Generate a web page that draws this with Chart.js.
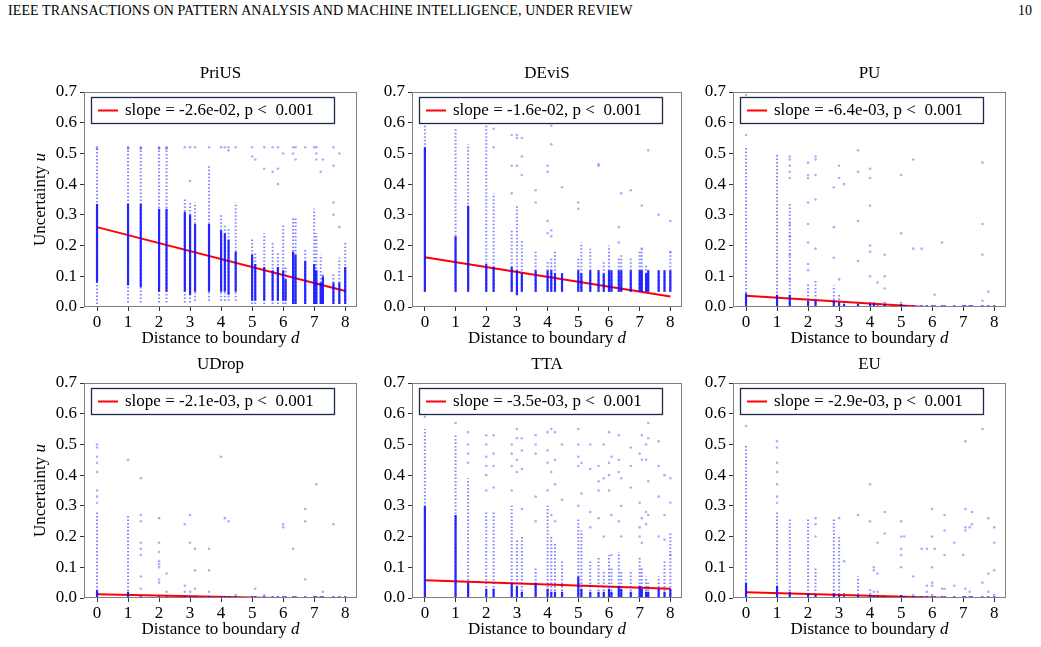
<!DOCTYPE html>
<html>
<head>
<meta charset="utf-8">
<script src="https://cdn.jsdelivr.net/npm/chart.js@4.4.0/dist/chart.umd.min.js"></script>
<style>
  body { margin: 0; background: #fff; width: 1041px; height: 647px; position: relative; overflow: hidden; font-family: 'Liberation Serif', serif; }
  .header { position: absolute; top: 3px; left: 8px; font-size: 14px; letter-spacing: 0.1px; color: #000; }
  .page { position: absolute; top: 3px; right: 9px; font-size: 14px; color: #000; }
  canvas { position: absolute; }
</style>
</head>
<body>
<div class="header">IEEE TRANSACTIONS ON PATTERN ANALYSIS AND MACHINE INTELLIGENCE, UNDER REVIEW</div>
<div class="page">10</div>
<canvas id="c0"></canvas>
<canvas id="c1"></canvas>
<canvas id="c2"></canvas>
<canvas id="c3"></canvas>
<canvas id="c4"></canvas>
<canvas id="c5"></canvas>
<script>
const methods = ['PriUS', 'DEviS', 'PU', 'UDrop', 'TTA', 'EU'];
const slopes = [-2.6e-2, -1.6e-2, -6.4e-3, -2.1e-3, -3.5e-3, -2.9e-3];
const intercepts = [0.26, 0.162, 0.037, 0.012, 0.058, 0.019];
const xTicks = [0, 1, 2, 3, 4, 5, 6, 7, 8];
const yTicks = [0, 0.1, 0.2, 0.3, 0.4, 0.5, 0.6, 0.7];

// distinct distances to the boundary (sqrt of integer sums)
const distances = [0, 1, 1.41, 2, 2.24, 2.83, 3, 3.16, 3.61, 4, 4.12, 4.24, 4.47, 5, 5.1, 5.39, 5.66, 5.83, 6, 6.08, 6.32, 6.4, 6.71, 7, 7.07, 7.21, 7.28, 7.62, 7.81, 8];

// PriUS
const priusDarkLo = [0.08, 0.07, 0.065, 0.05, 0.05, 0.05, 0.04, 0.05, 0.05, 0.05, 0.05, 0.04, 0.05, 0.02, 0.02, 0.02, 0.02, 0.02, 0.02, 0.02, 0.01, 0.01, 0.01, 0.01, 0.01, 0.01, 0.01, 0.01, 0.01, 0.01];
const priusDarkHi = [0.335, 0.335, 0.335, 0.32, 0.32, 0.31, 0.30, 0.27, 0.27, 0.25, 0.24, 0.22, 0.18, 0.17, 0.14, 0.13, 0.12, 0.13, 0.12, 0.09, 0.18, 0.17, 0.15, 0.14, 0.12, 0.08, 0.10, 0.08, 0.08, 0.13];
const priusFaintLo = [0.01, 0.015, 0.015, 0.015, 0.015, 0.015, 0.015, 0.02, 0.02, 0.02, 0.02, 0.02, 0.02, 0.01, 0.01, 0.01, 0.01, 0.01, 0.01, 0.01, 0.01, 0.01, 0.01, 0.01, 0.01, 0.01, 0.01, 0.01, 0.01, 0.01];
const priusFaintHi = [0.52, 0.52, 0.52, 0.52, 0.52, 0.35, 0.34, 0.34, 0.46, 0.30, 0.27, 0.26, 0.34, 0.22, 0.18, 0.24, 0.21, 0.18, 0.27, 0.13, 0.29, 0.29, 0.19, 0.32, 0.24, 0.17, 0.11, 0.11, 0.16, 0.21];
const priusSparse = [[0, 0.52], [0, 0.515], [1, 0.52], [1, 0.515], [1.41, 0.52], [1.41, 0.515], [2, 0.52], [2, 0.515], [2.24, 0.52], [2.24, 0.515],
  [2.83, 0.52], [3, 0.52], [3, 0.41], [3.16, 0.52], [3.61, 0.52], [4, 0.52], [4.12, 0.52], [4.24, 0.52], [4.24, 0.51], [4.47, 0.52],
  [5, 0.52], [5, 0.49], [5.1, 0.48], [5.39, 0.52], [5.39, 0.45], [5.66, 0.52], [5.66, 0.44], [5.83, 0.52], [5.83, 0.45], [5.83, 0.40],
  [6, 0.50], [6.32, 0.52], [6.32, 0.50], [6.4, 0.52], [6.4, 0.48], [6.71, 0.52], [7, 0.52], [7.07, 0.52], [7.07, 0.50], [7.07, 0.48],
  [7.21, 0.44], [7.28, 0.48], [7.62, 0.52], [7.62, 0.46], [7.62, 0.34], [7.62, 0.30], [7.81, 0.50], [7.81, 0.26]];

// DEviS
const devisDarkLo = [0.05, 0.05, 0.05, 0.05, 0.05, 0.05, 0.04, 0.05, 0.05, 0.05, 0.05, 0.05, 0.05, 0.05, 0.05, 0.05, 0.05, 0.05, 0.05, 0.05, 0.05, 0.05, 0.05, 0.05, 0.05, 0.05, 0.05, 0.05, 0.05, 0.05];
const devisDarkHi = [0.52, 0.23, 0.33, 0.14, 0.13, 0.13, 0.12, 0.11, 0.12, 0.12, 0.12, 0.11, 0.11, 0.12, 0.11, 0.12, 0.12, 0.11, 0.12, 0.12, 0.12, 0.12, 0.12, 0.12, 0.12, 0.11, 0.12, 0.12, 0.12, 0.12];
const devisFaintLo = [0.05, 0.05, 0.05, 0.05, 0.05, 0.05, 0.05, 0.05, 0.05, 0.05, 0.05, 0.05, 0.05, 0.05, 0.05, 0.05, 0.05, 0.05, 0.05, 0.05, 0.05, 0.05, 0.05, 0.05, 0.05, 0.05, 0.05, 0.05, 0.05, 0.05];
const devisFaintHi = [0.6, 0.58, 0.53, 0.59, 0.37, 0.25, 0.33, 0.22, 0.18, 0.15, 0.16, 0.18, 0.11, 0.16, 0.21, 0.19, 0.12, 0.15, 0.2, 0.12, 0.16, 0.17, 0.16, 0.18, 0.19, 0.14, 0.12, 0.12, 0.12, 0.18];
const devisSparse = [[2.24, 0.58], [2.24, 0.52], [2.83, 0.56], [2.83, 0.46], [2.83, 0.37], [3, 0.56], [3, 0.55], [3, 0.46], [3, 0.04],
  [3.16, 0.55], [3.16, 0.49], [3.16, 0.43], [3.61, 0.38], [3.61, 0.34], [4, 0.46], [4, 0.44], [4, 0.28], [4, 0.24],
  [4.12, 0.59], [4.12, 0.53], [4.12, 0.25], [4.12, 0.23], [4.47, 0.39], [5, 0.34], [5, 0.32], [5.66, 0.46], [5.66, 0.465],
  [6.32, 0.26], [6.32, 0.21], [6.4, 0.37], [6.71, 0.38], [7.07, 0.33], [7.07, 0.19], [7.28, 0.51], [7.62, 0.30], [8, 0.28], [8, 0.18]];

// PU
const puDarkLo = [0, 0, 0, 0, 0, 0, 0, 0, 0, 0, 0, 0, 0, 0, 0, 0, 0, 0, 0, 0, 0, 0, 0, 0, 0, 0, 0, 0, 0, 0];
const puDarkHi = [0.045, 0.04, 0.04, 0.02, 0.02, 0.02, 0.015, 0.01, 0.01, 0.01, 0.01, 0.006, 0.01, 0.01, 0.006, 0.006, 0.006, 0.006, 0.006, 0.006, 0.006, 0.006, 0.006, 0.006, 0.006, 0.006, 0.006, 0.006, 0.006, 0.006];
const puFaintLo = [0, 0, 0, 0, 0, 0, 0, 0, 0, 0, 0, null, 0, 0, null, null, null, null, null, null, null, null, null, null, null, null, null, null, null, null];
const puFaintHi = [0.52, 0.5, 0.34, 0.08, 0.09, 0.07, 0.04, 0.02, 0.02, 0.02, 0.02, null, 0.02, 0.02, null, null, null, null, null, null, null, null, null, null, null, null, null, null, null, null];
const puSparse = [[0, 0.56], [0, 0.6], [0, 0.69], [1.41, 0.49], [1.41, 0.48], [1.41, 0.46], [1.41, 0.44], [1.41, 0.42], [1.41, 0.27], [1.41, 0.23], [1.41, 0.17], [1.41, 0.09],
  [2, 0.47], [2, 0.43], [2, 0.42], [2, 0.34], [2, 0.27], [2, 0.21], [2, 0.14], [2, 0.12], [2.24, 0.49], [2.24, 0.48], [2.24, 0.43], [2.24, 0.35], [2.24, 0.19],
  [2.83, 0.39], [2.83, 0.26], [2.83, 0.16], [3, 0.46], [3, 0.42], [3, 0.09], [3.16, 0.40], [3.61, 0.51], [3.61, 0.44], [3.61, 0.28], [3.61, 0.15],
  [4, 0.45], [4, 0.42], [4, 0.33], [4, 0.20], [4, 0.18], [4, 0.10], [4.24, 0.08], [4.47, 0.17], [4.47, 0.10], [4.47, 0.06], [5, 0.43], [5, 0.24],
  [5.39, 0.48], [5.39, 0.19], [5.66, 0.19], [6.08, 0.04], [6.32, 0.21], [7.62, 0.47], [7.62, 0.27], [7.62, 0.17], [7.62, 0.02], [7.81, 0.05]];

// UDrop
const udropDarkLo = [0, 0, 0, 0, 0, 0, 0, 0, 0, 0, 0, 0, 0, 0, 0, 0, 0, 0, 0, 0, 0, 0, 0, 0, 0, 0, 0, 0, 0, 0];
const udropDarkHi = [0.025, 0.02, 0.006, 0.006, 0.006, 0.006, 0.006, 0.006, 0.006, 0.006, 0.006, 0.006, 0.006, 0.006, 0.006, 0.006, 0.006, 0.006, 0.006, 0.006, 0.006, 0.006, 0.006, 0.006, 0.006, 0.006, 0.006, 0.006, 0.006, 0.006];
const udropFaintLo = [0, 0, null, null, null, null, null, null, null, null, null, null, null, null, null, null, null, null, null, null, null, null, null, null, null, null, null, null, null, null];
const udropFaintHi = [0.28, 0.27, null, null, null, null, null, null, null, null, null, null, null, null, null, null, null, null, null, null, null, null, null, null, null, null, null, null, null, null];
const udropSparse = [[0, 0.5], [0, 0.49], [0, 0.46], [0, 0.44], [0, 0.41], [0, 0.35], [0, 0.33], [0, 0.31], [1, 0.45],
  [1.41, 0.39], [1.41, 0.27], [1.41, 0.25], [1.41, 0.18], [1.41, 0.16], [1.41, 0.14], [1.41, 0.07], [1.41, 0.03],
  [2, 0.26], [2, 0.18], [2, 0.15], [2, 0.12], [2, 0.11], [2, 0.1], [2, 0.06], [2, 0.05], [2.24, 0.08], [2.24, 0.02],
  [2.83, 0.24], [2.83, 0.04], [2.83, 0.02], [3, 0.27], [3, 0.18], [3, 0.02], [3.16, 0.16], [3.16, 0.09], [3.16, 0.03],
  [3.61, 0.16], [3.61, 0.09], [3.61, 0.02], [4, 0.46], [4.12, 0.26], [4.24, 0.25], [4.47, 0.01], [5.1, 0.03], [5.39, 0.01],
  [6, 0.24], [6, 0.23], [6.32, 0.16], [6.71, 0.29], [6.71, 0.25], [6.71, 0.06], [7.07, 0.37], [7.28, 0.02], [7.62, 0.24]];

// TTA
const ttaDarkLo = [0, 0, 0, 0, 0, 0, 0, 0, 0, 0, 0, 0, 0, 0, 0, 0, 0, 0, 0, 0, 0, 0, 0, 0, 0, 0, 0, 0, 0, 0];
const ttaDarkHi = [0.30, 0.27, 0.05, 0.03, 0.03, 0.05, 0.04, 0.02, 0.05, 0.03, 0.02, 0.02, 0.02, 0.07, 0.03, 0.02, 0.02, 0.02, 0.03, 0.02, 0.04, 0.03, 0.02, 0.04, 0.03, 0.02, 0.02, 0.03, 0.02, 0.03];
const ttaFaintLo = [0, 0, 0, 0, 0, 0, 0, 0, 0, 0, 0, 0, 0, 0, 0, 0, 0, 0, 0, 0, 0, 0, 0, 0, 0, 0, 0, 0, 0, 0];
const ttaFaintHi = [0.55, 0.53, 0.39, 0.28, 0.28, 0.30, 0.19, 0.20, 0.10, 0.30, 0.20, 0.18, 0.12, 0.26, 0.22, 0.12, 0.13, 0.09, 0.14, 0.10, 0.15, 0.09, 0.09, 0.13, 0.10, 0.07, 0.05, 0.07, 0.12, 0.21];
const ttaSparse = [[0, 0.59], [0, 0.6], [1, 0.57], [1.41, 0.54], [1.41, 0.50], [1.41, 0.47], [1.41, 0.44],
  [2, 0.35], [2, 0.53], [2, 0.50], [2, 0.46], [2, 0.43], [2, 0.40], [2.24, 0.53], [2.24, 0.47], [2.24, 0.43], [2.24, 0.36],
  [2.83, 0.50], [2.83, 0.47], [2.83, 0.43], [2.83, 0.35], [3, 0.55], [3, 0.52], [3, 0.45], [3, 0.41],
  [3.16, 0.52], [3.16, 0.48], [3.16, 0.42], [3.16, 0.29], [3.61, 0.53], [3.61, 0.50], [3.61, 0.47], [3.61, 0.33], [3.61, 0.25],
  [4, 0.54], [4, 0.48], [4, 0.44], [4, 0.35], [4.12, 0.55], [4.12, 0.41], [4.12, 0.27], [4.24, 0.54], [4.24, 0.45], [4.24, 0.37], [4.24, 0.25],
  [4.47, 0.50], [4.47, 0.32], [5, 0.55], [5, 0.50], [5, 0.46], [5, 0.43], [5, 0.30], [5.1, 0.44], [5.1, 0.34],
  [5.39, 0.50], [5.39, 0.42], [5.39, 0.28], [5.39, 0.23], [5.66, 0.43], [5.66, 0.38], [5.66, 0.35], [5.66, 0.26],
  [5.83, 0.50], [5.83, 0.39], [5.83, 0.20], [6, 0.54], [6, 0.44], [6, 0.40], [6, 0.35], [6.08, 0.46], [6.08, 0.27], [6.08, 0.14],
  [6.32, 0.53], [6.32, 0.45], [6.32, 0.41], [6.32, 0.25], [6.4, 0.39], [6.4, 0.30], [6.4, 0.20], [6.71, 0.49], [6.71, 0.43], [6.71, 0.36],
  [7, 0.47], [7, 0.31], [7, 0.23], [7, 0.20], [7.07, 0.53], [7.07, 0.45], [7.07, 0.26], [7.07, 0.18],
  [7.21, 0.50], [7.21, 0.45], [7.21, 0.28], [7.21, 0.24], [7.28, 0.57], [7.28, 0.52], [7.28, 0.38], [7.28, 0.27],
  [7.62, 0.51], [7.62, 0.43], [7.62, 0.33], [7.62, 0.20], [7.81, 0.40], [7.81, 0.27], [7.81, 0.19], [8, 0.39], [8, 0.31], [8, 0.14]];

// EU
const euDarkLo = [0, 0, 0, 0, 0, 0, 0, 0, 0, 0, 0, 0, 0, 0, 0, 0, 0, 0, 0, 0, 0, 0, 0, 0, 0, 0, 0, 0, 0, 0];
const euDarkHi = [0.05, 0.04, 0.02, 0.015, 0.01, 0.015, 0.01, 0.006, 0.01, 0.01, 0.006, 0.006, 0.006, 0.01, 0.006, 0.006, 0.006, 0.006, 0.006, 0.006, 0.006, 0.006, 0.006, 0.006, 0.006, 0.006, 0.006, 0.006, 0.006, 0.006];
const euFaintLo = [0, 0, 0, 0, 0, 0, 0, 0, 0, 0, null, null, null, null, null, null, null, null, null, null, null, null, null, null, null, null, null, null, null, null];
const euFaintHi = [0.50, 0.28, 0.26, 0.26, 0.10, 0.26, 0.20, 0.02, 0.07, 0.03, null, null, null, null, null, null, null, null, null, null, null, null, null, null, null, null, null, null, null, null];
const euSparse = [[0, 0.56], [1, 0.51], [1, 0.49], [1, 0.44], [1, 0.41], [1, 0.37], [1, 0.33], [1, 0.31],
  [2.24, 0.26], [2.24, 0.24], [2.24, 0.20], [3, 0.26], [3.16, 0.12], [3.61, 0.27], [4, 0.37], [4, 0.25],
  [4.12, 0.10], [4.12, 0.09], [4.12, 0.02], [4.24, 0.18], [4.24, 0.08], [4.24, 0.02], [4.47, 0.28], [4.47, 0.21],
  [5, 0.25], [5, 0.20], [5, 0.16], [5, 0.14], [5, 0.10], [5.1, 0.20], [5.39, 0.07], [5.39, 0.01], [5.66, 0.16],
  [5.83, 0.16], [5.83, 0.04], [5.83, 0.02], [6, 0.29], [6, 0.20], [6, 0.10], [6, 0.05], [6, 0.04], [6, 0.01], [6.08, 0.16],
  [6.32, 0.03], [6.4, 0.27], [6.4, 0.22], [6.4, 0.14], [6.4, 0.03], [6.71, 0.18], [6.71, 0.04], [7, 0.14],
  [7.07, 0.29], [7.07, 0.23], [7.07, 0.22], [7.07, 0.51], [7.07, 0.03], [7.21, 0.23], [7.21, 0.02], [7.28, 0.28], [7.28, 0.24],
  [7.62, 0.55], [7.62, 0.05], [7.81, 0.26], [7.81, 0.08], [7.81, 0.02], [8, 0.23], [8, 0.18], [8, 0.09], [8, 0.01]];

const panels = [
  { dark: [priusDarkLo, priusDarkHi], faint: [priusFaintLo, priusFaintHi], sparse: priusSparse },
  { dark: [devisDarkLo, devisDarkHi], faint: [devisFaintLo, devisFaintHi], sparse: devisSparse },
  { dark: [puDarkLo, puDarkHi], faint: [puFaintLo, puFaintHi], sparse: puSparse },
  { dark: [udropDarkLo, udropDarkHi], faint: [udropFaintLo, udropFaintHi], sparse: udropSparse },
  { dark: [ttaDarkLo, ttaDarkHi], faint: [ttaFaintLo, ttaFaintHi], sparse: ttaSparse },
  { dark: [euDarkLo, euDarkHi], faint: [euFaintLo, euFaintHi], sparse: euSparse }
];

// page layout of the plot areas
const colLeft = [84, 412, 733];
const colRight = [357, 682, 1006];
const rowTop = [92, 383];
const plotH = 215;
const padL = 62, padT = 42, padR = 14, padB = 58;
const FONT = "'Liberation Serif', 'Times New Roman', serif";

function segs(lo, hi) {
  const pts = [];
  distances.forEach((d, i) => {
    if (lo[i] == null || hi[i] == null || hi[i] <= lo[i]) return;
    pts.push({ x: d, y: lo[i] }, { x: d, y: hi[i] }, { x: d, y: null });
  });
  return pts;
}

function fmtSlope(s) {
  const [m, e] = s.toExponential(1).split('e');
  const sign = e[0] === '-' ? '-' : '+';
  const digits = e.replace(/^[-+]/, '').padStart(2, '0');
  return m + 'e' + sign + digits;
}

const decor = {
  id: 'decor',
  afterDatasetsDraw(chart, args, opts) {
    const { ctx, chartArea: a } = chart;
    ctx.save();
    // frame
    ctx.strokeStyle = '#808080';
    ctx.lineWidth = 1;
    ctx.strokeRect(Math.round(a.left) + 0.5, Math.round(a.top) + 0.5, Math.round(a.width) - 1, Math.round(a.height) - 1);
    // legend box
    const bx = Math.round(a.left) + 7, by = Math.round(a.top) + 5, bw = 243, bh = 26;
    ctx.fillStyle = '#fff';
    ctx.fillRect(bx, by, bw, bh);
    ctx.strokeStyle = '#1c2b4a';
    ctx.lineWidth = 1.3;
    ctx.strokeRect(bx + 0.5, by + 0.5, bw, bh);
    ctx.strokeStyle = '#ff0000';
    ctx.lineWidth = 2;
    ctx.beginPath();
    ctx.moveTo(bx + 7, by + bh / 2 + 0.5);
    ctx.lineTo(bx + 27, by + bh / 2 + 0.5);
    ctx.stroke();
    ctx.fillStyle = '#000';
    ctx.font = '17px ' + FONT;
    ctx.textBaseline = 'middle';
    ctx.textAlign = 'left';
    ctx.fillText('slope = ' + fmtSlope(opts.slope) + ', p <  0.001', bx + 34, by + bh / 2 + 1);
    ctx.restore();
  },
  afterDraw(chart, args, opts) {
    const { ctx, chartArea: a } = chart;
    const cx = (a.left + a.right) / 2;
    ctx.save();
    ctx.fillStyle = '#000';
    ctx.textBaseline = 'middle';
    // title
    ctx.font = '17px ' + FONT;
    ctx.textAlign = 'center';
    ctx.fillText(opts.title, cx, a.top - 18);
    // x label with italic d
    ctx.textAlign = 'left';
    const base = 'Distance to boundary ';
    ctx.font = '17px ' + FONT;
    const w1 = ctx.measureText(base).width;
    ctx.font = 'italic 17px ' + FONT;
    const w2 = ctx.measureText('d').width;
    let x0 = cx - (w1 + w2) / 2;
    ctx.font = '17px ' + FONT;
    ctx.fillText(base, x0, a.bottom + 32);
    ctx.font = 'italic 17px ' + FONT;
    ctx.fillText('d', x0 + w1, a.bottom + 32);
    // y label
    if (opts.yLabel) {
      ctx.translate(a.left - 43, (a.top + a.bottom) / 2);
      ctx.rotate(-Math.PI / 2);
      const yb = 'Uncertainty ';
      ctx.font = '17px ' + FONT;
      const v1 = ctx.measureText(yb).width;
      ctx.font = 'italic 17px ' + FONT;
      const v2 = ctx.measureText('u').width;
      const s0 = -(v1 + v2) / 2;
      ctx.font = '17px ' + FONT;
      ctx.fillText(yb, s0, 0);
      ctx.font = 'italic 17px ' + FONT;
      ctx.fillText('u', s0 + v1, 0);
    }
    ctx.restore();
  }
};

panels.forEach((p, k) => {
  const col = k % 3, row = Math.floor(k / 3);
  const plotW = colRight[col] - colLeft[col];
  const canvas = document.getElementById('c' + k);
  const cw = plotW + padL + padR, chh = plotH + padT + padB;
  canvas.width = cw; canvas.height = chh;
  canvas.style.width = cw + 'px'; canvas.style.height = chh + 'px';
  canvas.style.left = (colLeft[col] - padL) + 'px';
  canvas.style.top = (rowTop[row] - padT) + 'px';

  const fitData = [0, 8].map(d => ({ x: d, y: intercepts[k] + slopes[k] * d }));

  new Chart(canvas.getContext('2d'), {
    type: 'scatter',
    data: {
      datasets: [
        {
          data: segs(p.faint[0], p.faint[1]),
          showLine: true, spanGaps: false, pointRadius: 0,
          borderColor: 'rgba(30, 30, 255, 0.55)', borderWidth: 2, borderDash: [1.5, 2]
        },
        {
          data: segs(p.dark[0], p.dark[1]),
          showLine: true, spanGaps: false, pointRadius: 0,
          borderColor: 'rgba(0, 0, 255, 0.85)', borderWidth: 2.2
        },
        {
          data: p.sparse.map(([d, u]) => ({ x: d, y: u })),
          pointRadius: 1.3, borderWidth: 0,
          backgroundColor: 'rgba(0, 0, 255, 0.32)'
        },
        {
          data: fitData,
          showLine: true, pointRadius: 0,
          borderColor: '#ff0000', borderWidth: 2
        }
      ]
    },
    options: {
      responsive: false,
      animation: false,
      events: [],
      layout: { padding: { left: 0, top: padT, right: padR, bottom: 0 } },
      plugins: {
        legend: { display: false },
        tooltip: { enabled: false },
        decor: { title: methods[k], slope: slopes[k], yLabel: col === 0 }
      },
      scales: {
        x: {
          type: 'linear', min: -0.42, max: 8.38,
          afterBuildTicks: s => { s.ticks = xTicks.map(v => ({ value: v })); },
          afterFit: s => { s.height = padB; },
          grid: { drawOnChartArea: false, drawTicks: true, tickLength: 4, tickColor: '#333' },
          border: { display: false },
          ticks: { color: '#000', font: { family: FONT, size: 17 }, padding: 1, maxRotation: 0 }
        },
        y: {
          type: 'linear', min: 0, max: 0.7,
          afterBuildTicks: s => { s.ticks = yTicks.map(v => ({ value: v })); },
          afterFit: s => { s.width = padL; },
          grid: { drawOnChartArea: false, drawTicks: true, tickLength: 4, tickColor: '#333' },
          border: { display: false },
          ticks: { color: '#000', font: { family: FONT, size: 17 }, padding: 3, callback: v => v.toFixed(1) }
        }
      }
    },
    plugins: [decor]
  });
});
</script>
</body>
</html>
